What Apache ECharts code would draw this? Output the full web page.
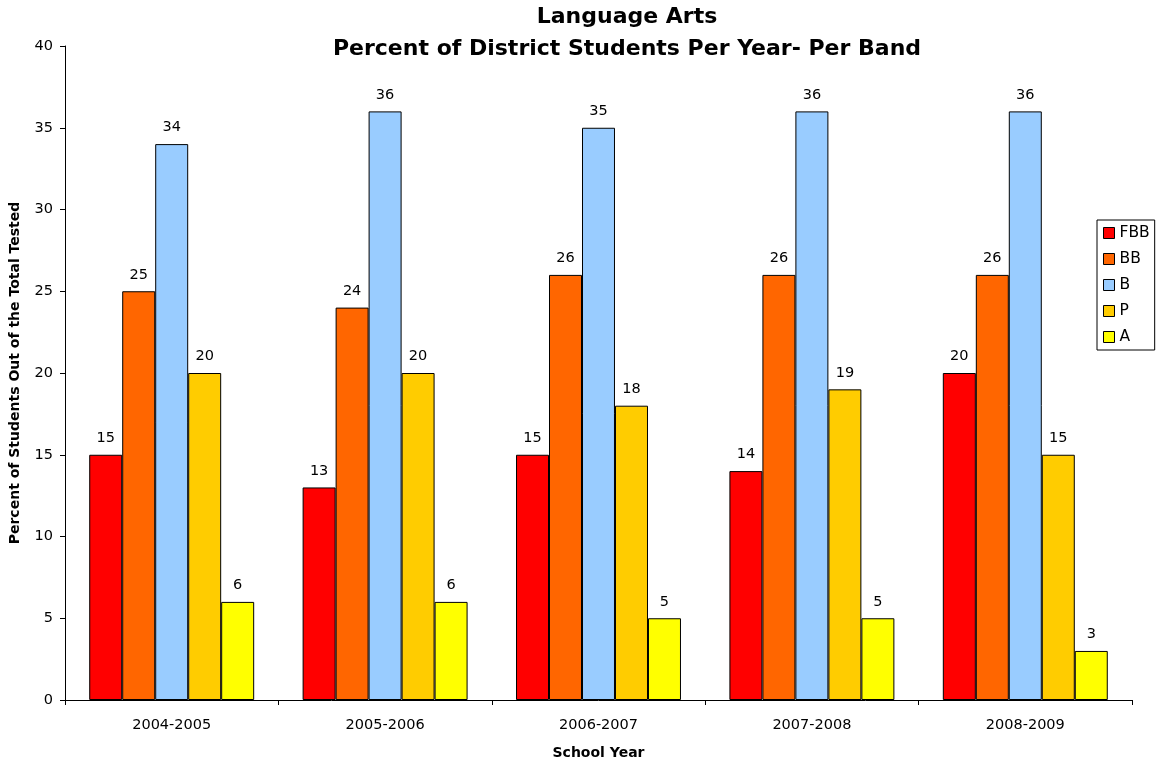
<!DOCTYPE html>
<html>
<head>
<meta charset="utf-8">
<script src="https://cdn.jsdelivr.net/npm/echarts@6/dist/echarts.min.js"></script>
<style>
  html, body { margin: 0; padding: 0; background: #fff; }
  #chart { width: 1156px; height: 765px; }
</style>
</head>
<body>
<div id="chart"></div>
<script>
// School years on the category axis
var years = ['2004-2005', '2005-2006', '2006-2007', '2007-2008', '2008-2009'];

// Percent of tested students in each performance band
var bandFBB = [15, 13, 15, 14, 20];
var bandBB  = [25, 24, 26, 26, 26];
var bandB   = [34, 36, 35, 36, 36];
var bandP   = [20, 20, 18, 19, 15];
var bandA   = [6, 6, 5, 5, 3];

var bandNames = ['FBB', 'BB', 'B', 'P', 'A'];
var bandValues = [bandFBB, bandBB, bandB, bandP, bandA];
var bandColors = ['#FF0000', '#FF6600', '#99CCFF', '#FFCC00', '#FFFF00'];

var FONT = '"DejaVu Sans", "Liberation Sans", Arial, sans-serif';

var chart = echarts.init(document.getElementById('chart'), null, { renderer: 'canvas' });

var series = bandNames.map(function (name, i) {
  return {
    name: name,
    type: 'bar',
    data: bandValues[i],
    barGap: '0%',
    barCategoryGap: '22.7%',
    itemStyle: { color: bandColors[i], borderColor: '#000', borderWidth: 1 },
    label: {
      show: true,
      position: 'top',
      distance: 9,
      color: '#000',
      fontFamily: FONT,
      fontSize: 14.5
    },
    emphasis: { disabled: true },
    animation: false
  };
});

chart.setOption({
  animation: false,
  backgroundColor: '#fff',
  title: {
    text: 'Language Arts\nPercent of District Students Per Year- Per Band',
    left: 627,
    top: 1,
    padding: 0,
    textAlign: 'center',
    textStyle: {
      fontFamily: FONT,
      fontSize: 22,
      fontWeight: 'bold',
      color: '#000',
      lineHeight: 32
    }
  },
  legend: {
    orient: 'vertical',
    left: 1097,
    top: 220,
    padding: [5, 5, 5, 6],
    itemWidth: 11,
    itemHeight: 11,
    itemGap: 10,
    itemTextGap: 3,
    icon: 'rect',
    borderColor: '#000',
    borderWidth: 1,
    backgroundColor: '#fff',
    textStyle: { fontFamily: FONT, fontSize: 15.5, color: '#000', lineHeight: 16 },
    itemStyle: { borderColor: '#000', borderWidth: 1 },
    data: bandNames
  },
  grid: { left: 65, right: 24, top: 46, bottom: 64, containLabel: false },
  xAxis: {
    type: 'category',
    data: years,
    name: 'School Year',
    nameLocation: 'middle',
    nameGap: 46,
    nameTextStyle: { fontFamily: FONT, fontSize: 14, fontWeight: 'bold', color: '#000' },
    axisLine: { lineStyle: { color: '#000', width: 1 } },
    axisTick: { show: true, length: 5, inside: false, lineStyle: { color: '#000' } },
    axisLabel: { fontFamily: FONT, fontSize: 14.5, color: '#000', margin: 18 },
    splitLine: { show: false }
  },
  yAxis: {
    type: 'value',
    min: 0,
    max: 40,
    interval: 5,
    name: 'Percent of Students Out of the Total Tested',
    nameLocation: 'middle',
    nameGap: 43,
    nameRotate: 90,
    nameTextStyle: { fontFamily: FONT, fontSize: 14, fontWeight: 'bold', color: '#000' },
    axisLine: { show: true, lineStyle: { color: '#000', width: 1 } },
    axisTick: { show: true, length: 5, inside: false, lineStyle: { color: '#000' } },
    axisLabel: { fontFamily: FONT, fontSize: 14.5, color: '#000', margin: 12 },
    splitLine: { show: false }
  },
  series: series
});
</script>
</body>
</html>
